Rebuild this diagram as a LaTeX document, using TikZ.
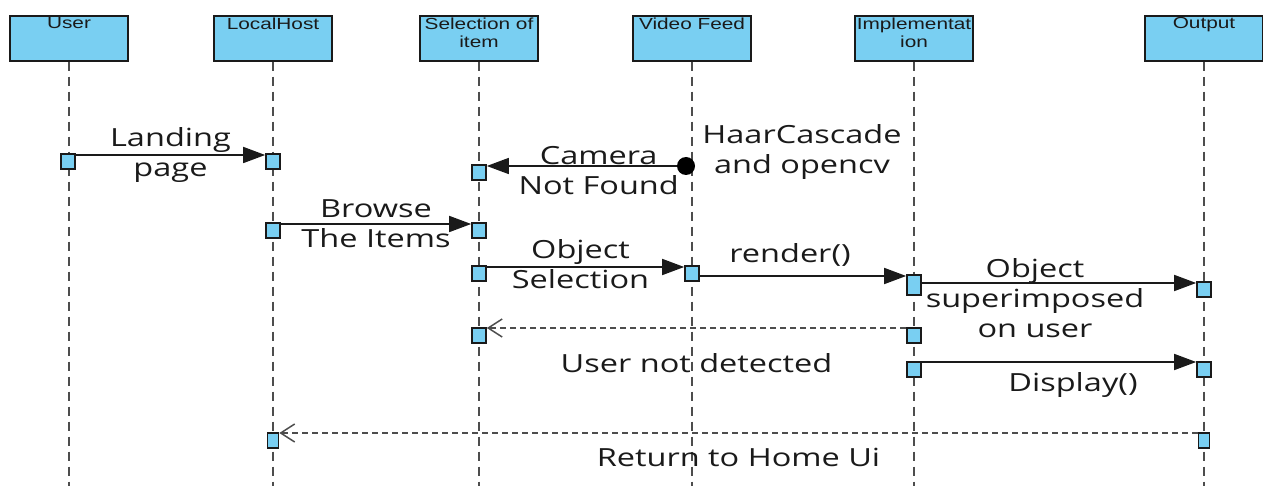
\documentclass[tikz,border=0pt]{standalone}
\usepackage{fontspec}
\usepackage{tikz}
\usetikzlibrary{positioning, arrows.meta, calc}
\newfontfamily\headfont[FakeStretch=1.3]{Liberation Sans}
\newfontfamily\msgfont[FakeStretch=1.3]{Open Sans}
\definecolor{lifefill}{HTML}{79CFF2}
\definecolor{ink}{HTML}{1A1A1A}
\definecolor{mute}{HTML}{4D4D4D}
\tikzset{
  head/.style    = {rectangle, draw=ink, thick, fill=lifefill, minimum width=59pt,
                    minimum height=22.5pt, anchor=north, inner sep=0pt},
  headtxt/.style = {anchor=north, align=center, inner sep=1.2pt,
                    font=\headfont\fontsize{8}{9}\selectfont, text=ink},
  life/.style    = {draw=mute, thick, dash pattern=on 4.5pt off 3pt},
  act/.style     = {rectangle, draw=ink, thick, fill=lifefill, minimum width=7pt,
                    minimum height=7.5pt, inner sep=0pt, anchor=north},
  msg/.style     = {-{Triangle[length=11pt,width=8pt]}, draw=ink, line width=0.75pt},
  ret/.style     = {-{Straight Barb[length=7pt,width=9pt]}, draw=mute, line width=0.75pt,
                    dash pattern=on 3pt off 2pt},
  lbl/.style     = {font=\msgfont\fontsize{12.5}{15}\selectfont, text=ink,
                    align=center, inner sep=0pt},
  src/.style     = {circle, fill=black, minimum size=9pt, inner sep=0pt},
}
\begin{document}
\begin{tikzpicture}[x=0.5pt, y=-0.5pt]
  \useasboundingbox (0,0) rectangle (1263,486);

  % lifeline heads
  \node[head, label={[headtxt]north:User}] (user) at (69,15) {};
  \node[head, label={[headtxt]north:LocalHost}] (host) at (273,15) {};
  \node[head, label={[headtxt]north:{Selection of\\item}}] (sel) at (479,15) {};
  \node[head, label={[headtxt]north:Video Feed}] (feed) at (692,15) {};
  \node[head, label={[headtxt]north:{Implementat\\ion}}] (impl) at (914,15) {};
  \node[head, label={[headtxt]north:Output}] (out) at (1204,15) {};

  \coordinate (bot) at (0,486);
  \foreach \n in {user,host,sel,feed,impl,out}
    \draw[life] (\n.south) -- (\n.south |- bot);

  % activations
  \node[act] (u1) at (68,153) {};
  \node[act] (h1) at (273,153) {};
  \node[act] (s1) at (479,164) {};
  \node[act] (h2) at (273,222) {};
  \node[act] (s2) at (479,222) {};
  \node[act] (s3) at (479,265) {};
  \node[act] (f1) at (692,265) {};
  \node[act, minimum height=10pt] (i1) at (914,274) {};
  \node[act] (o1) at (1204,281) {};
  \node[act] (i2) at (914,327) {};
  \node[act] (s4) at (479,327) {};
  \node[act] (i3) at (914,361) {};
  \node[act] (o2) at (1204,361) {};
  \node[act, minimum width=5.5pt] (o3) at (1204,432) {};
  \node[act, minimum width=5.5pt] (h3) at (273,432) {};
  \node[src] (cam) at (686,166) {};

  % messages
  \draw[msg] ([yshift=-1pt]u1.north east) -- node[lbl] (lland) {Landing\\page}
             ([yshift=-1pt]h1.north west);
  \draw[msg] (cam) -- node[lbl, xshift=8.5pt, yshift=-2.5pt] (lcam) {Camera\\Not Found}
             ([yshift=-1pt]s1.north east);
  \node[lbl] (haar) at (802,152) {HaarCascade\\and opencv};
  \draw[msg] ([yshift=-1pt]h2.north east) -- node[lbl] (lbrowse) {Browse\\The Items}
             ([yshift=-1pt]s2.north west);
  \draw[msg] ([yshift=-1pt]s3.north east) -- node[lbl, xshift=-2.5pt, yshift=1.5pt] (lobj) {Object\\Selection}
             ([yshift=-1pt]f1.north west);
  \draw[msg] ([yshift=-5.5pt]f1.north east) -- node[lbl, xshift=-6.5pt, yshift=10.5pt] (lrender) {render()}
             ([yshift=-1pt]i1.north west);
  \draw[msg] ([yshift=-4.5pt]i1.north east) -- node[lbl, xshift=-12pt, yshift=-7.5pt] (lsup) {Object\\superimposed\\on user}
             ([yshift=-1pt]o1.north west);
  \draw[ret] ([yshift=-0.5pt]i2.north west) -- node[lbl, yshift=-17.5pt] (lnot) {User not detected}
             ([yshift=-0.5pt]s4.north east);
  \draw[msg] ([yshift=-0.5pt]i3.north east) -- node[lbl, xshift=7pt, yshift=-11.5pt] (ldisp) {Display()}
             ([yshift=-0.5pt]o2.north west);
  \draw[ret] ([yshift=-0.5pt]o3.north west) -- node[lbl, yshift=-12pt] (lhome) {Return to Home Ui}
             ([yshift=-0.5pt]h3.north east);

\end{tikzpicture}
\end{document}
